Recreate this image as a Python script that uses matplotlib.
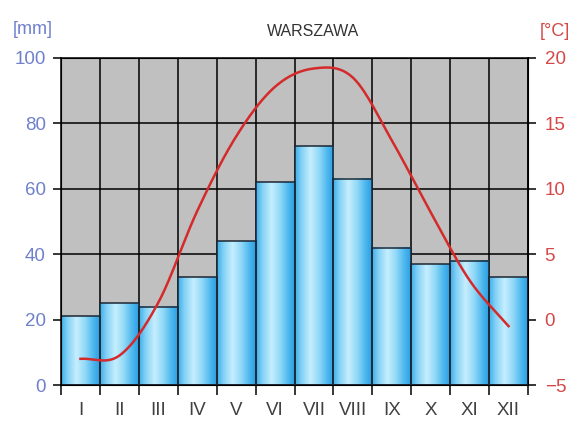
"""Climate diagram for Warsaw: monthly precipitation bars and temperature curve."""
import matplotlib
matplotlib.use("Agg")
import matplotlib.pyplot as plt
import numpy as np
from matplotlib.colors import LinearSegmentedColormap

MONTHS = ["I", "II", "III", "IV", "V", "VI", "VII", "VIII", "IX", "X", "XI", "XII"]
PRECIP_MM = [21, 25, 24, 33, 44, 62, 73, 63, 42, 37, 38, 33]
TEMP_C = [-3.0, -2.75, 1.3, 8.3, 14.0, 17.8, 19.2, 18.5, 13.7, 8.2, 3.0, -0.5]

BLUE_TXT = "#6f80cc"
RED_TXT = "#d44848"
GRAY_BG = "#c0c0c0"

plt.rcParams["font.family"] = ["Liberation Sans", "DejaVu Sans"]


def catmull_rom(xs, ys, steps=30):
    """Smooth line through the points, like a spreadsheet 'smoothed line'."""
    xs = np.asarray(xs, float)
    ys = np.asarray(ys, float)
    px = np.concatenate([[2 * xs[0] - xs[1]], xs, [2 * xs[-1] - xs[-2]]])
    py = np.concatenate([[2 * ys[0] - ys[1]], ys, [2 * ys[-1] - ys[-2]]])
    out_x, out_y = [], []
    t = np.linspace(0, 1, steps, endpoint=False)
    for i in range(1, len(px) - 2):
        for p, out in ((px, out_x), (py, out_y)):
            p0, p1, p2, p3 = p[i - 1], p[i], p[i + 1], p[i + 2]
            out.extend(0.5 * (2 * p1 + (-p0 + p2) * t
                              + (2 * p0 - 5 * p1 + 4 * p2 - p3) * t ** 2
                              + (-p0 + 3 * p1 - 3 * p2 + p3) * t ** 3))
    out_x.append(xs[-1])
    out_y.append(ys[-1])
    return np.array(out_x), np.array(out_y)


fig = plt.figure(figsize=(5.73, 4.34), dpi=100)
ax = fig.add_axes([61 / 573, 49 / 434, 467 / 573, 327 / 434])
ax.set_facecolor(GRAY_BG)

x = np.arange(len(MONTHS))

# cylinder-like gradient for the bars
bar_cmap = LinearSegmentedColormap.from_list("bar", [
    (0.0, "#3eaeea"), (0.15, "#80d0f6"), (0.4, "#c6eefd"),
    (0.62, "#92d9f8"), (0.85, "#4ab6ee"), (1.0, "#2c9ee2")])
grad = np.linspace(0, 1, 64).reshape(1, -1)
for xi, h in zip(x, PRECIP_MM):
    ax.imshow(grad, cmap=bar_cmap, aspect="auto", interpolation="bilinear",
              extent=[xi - 0.5, xi + 0.5, 0, h], zorder=2)
ax.bar(x, PRECIP_MM, width=1.0, fill=False, edgecolor="#1c2633",
       linewidth=1.1, zorder=3)

ax.set_xlim(-0.5, 11.5)
ax.set_ylim(0, 100)
ax.set_yticks(np.arange(0, 101, 20))
ax.set_xticks(x)
ax.set_xticklabels(MONTHS)
ax.set_xticks(np.arange(-0.5, 12, 1), minor=True)
ax.set_axisbelow(True)
ax.grid(axis="y", which="major", color="black", linewidth=1.1)
ax.grid(axis="x", which="minor", color="black", linewidth=1.1)
ax.tick_params(axis="x", which="major", length=0, pad=12, labelsize=13.5,
               labelcolor="#404040")
ax.tick_params(axis="x", which="minor", length=7, direction="out", width=1.1)
ax.tick_params(axis="y", length=6, width=1.1, pad=5, labelsize=13.5,
               labelcolor=BLUE_TXT)
for s in ax.spines.values():
    s.set_color("black")
    s.set_linewidth(1.1)

ax2 = ax.twinx()
ax2.set_ylim(-5, 20)
ax2.set_yticks(np.arange(-5, 21, 5))
ax2.tick_params(axis="y", length=6, width=1.1, pad=6, labelsize=13.5,
                labelcolor=RED_TXT)
cx, cy = catmull_rom(x, TEMP_C)
ax2.plot(cx, cy, color="#d42a2a", linewidth=1.8, zorder=5)

fig.text(313 / 573, 1 - 32 / 434, "WARSZAWA", ha="center", va="center",
         fontsize=11.5, color="#333333")
fig.text(33 / 573, 1 - 30 / 434, "[mm]", ha="center", va="center",
         fontsize=13, color=BLUE_TXT)
fig.text(555 / 573, 1 - 32 / 434, "[°C]", ha="center", va="center",
         fontsize=13, color=RED_TXT)

fig.savefig("out.png", dpi=100)
